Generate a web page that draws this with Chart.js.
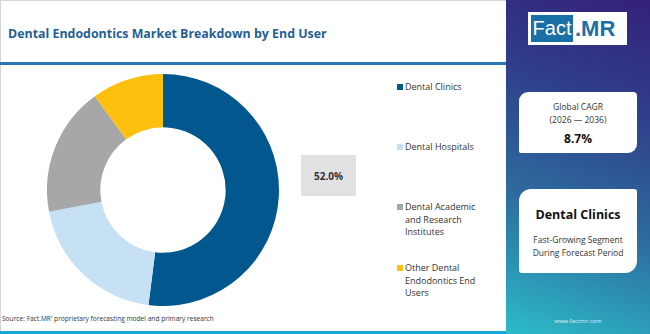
<!DOCTYPE html>
<html>
<head>
<meta charset="utf-8">
<script src="https://cdn.jsdelivr.net/npm/chart.js@4.4.1/dist/chart.umd.min.js"></script>
<style>
  html, body { margin: 0; padding: 0; }
  body { width: 650px; height: 334px; position: relative; overflow: hidden; background: #fff;
         font-family: "Open Sans", "DejaVu Sans", sans-serif; }
  .frame { position: absolute; left: 0; top: 0; width: 506px; height: 334px;
           border-top: 1px solid #d4d4d4; border-left: 1px solid #d4d4d4; box-sizing: border-box; }
  .title { position: absolute; left: 8px; top: 25px; font-size: 12.4px; font-weight: 700; color: #1f5f96;
           white-space: nowrap; }
  .rule { position: absolute; left: 0; top: 62px; width: 506px; height: 3px; background: #2e75b6; }
  .chartBox { position: absolute; left: 47px; top: 74px; width: 232px; height: 232px; }
  .valueBox { position: absolute; left: 301px; top: 155px; width: 55px; height: 41px; background: #e1e1e1;
              font-size: 10px; font-weight: 700; color: #333; display: flex; align-items: center; justify-content: center; }
  .legend { position: absolute; left: 397px; top: 0; width: 110px; }
  .legend .item { position: absolute; left: 0; width: 110px; font-size: 9px; color: #333; line-height: 12.5px; }
  .legend .sw { position: absolute; left: 0; top: 3px; width: 6px; height: 6px; }
  .legend .tx { margin-left: 8px; }
  .source { position: absolute; left: 2px; top: 314px; font-size: 6.6px; color: #333; white-space: nowrap; }
  .bottomBar { position: absolute; left: 0; top: 331px; width: 506px; height: 3px; background: #1aa7d6; }
  .panel { position: absolute; left: 506px; top: 0; width: 144px; height: 334px;
           background: linear-gradient(200deg, #34207a 0%, #2f3f8a 30%, #2d6a9e 62%, #2cbcc8 100%); }
  .logo { position: absolute; left: 22px; top: 12px; width: 99px; height: 33px; background: #fff; }
  .logo .f { position: absolute; left: 3px; top: 3px; width: 42px; height: 27px; background: #1a6fa5; color: #fff;
             font-size: 20px; line-height: 27px; text-align: center; font-family: "Liberation Sans", sans-serif; }
  .logo .m { position: absolute; left: 47px; top: 3px; height: 27px; color: #1a6fa5; font-weight: 700;
             font-size: 22px; line-height: 27px; font-family: "Liberation Sans", sans-serif; }
  .card { position: absolute; left: 13px; width: 118px; background: #fff; text-align: center; color: #333; }
  .card1 { top: 92px; height: 61px; border-radius: 9px 4px 9px 2px; }
  .card2 { top: 189px; height: 84px; border-radius: 12px 3px 12px 3px; }
  .url { position: absolute; left: 0; width: 144px; top: 317px; text-align: center; font-size: 6px; color: #e8eef8; }
</style>
</head>
<body>
<div class="frame"></div>
<div class="title">Dental Endodontics Market Breakdown by End User</div>
<div class="rule"></div>
<div class="chartBox"><canvas id="donut"></canvas></div>
<div class="valueBox" id="valueBox"></div>
<div class="legend" id="legend"></div>
<div class="source">Source: Fact.MR' proprietary forecasting model and primary research</div>
<div class="bottomBar"></div>
<div class="panel">
  <div class="logo"><div class="f">Fact</div><div class="m">.MR</div></div>
  <div class="card card1">
    <div style="font-size:8.5px;margin-top:8px;line-height:13px;">Global CAGR<br>(2026 — 2036)</div>
    <div style="font-size:12px;font-weight:700;margin-top:4px;color:#111;">8.7%</div>
  </div>
  <div class="card card2">
    <div style="font-size:12.5px;font-weight:700;margin-top:17px;color:#111;">Dental Clinics</div>
    <div style="font-size:8.5px;margin-top:11px;line-height:12.5px;">Fast-Growing Segment<br>During Forecast Period</div>
  </div>
  <div class="url">www.factmr.com</div>
</div>
<script>
const categories = ['Dental Clinics', 'Dental Hospitals', 'Dental Academic and Research Institutes', 'Other Dental Endodontics End Users'];
const legendLines = [['Dental Clinics'], ['Dental Hospitals'], ['Dental Academic', 'and Research', 'Institutes'], ['Other Dental', 'Endodontics End', 'Users']];
const shares = [52, 20, 18, 10];
const colors = ['#02588e', '#c6e1f3', '#a7a6a9', '#fec00f'];
const legendTops = [81, 141, 201, 262];

document.getElementById('valueBox').textContent = shares[0].toFixed(1) + '%';

const legend = document.getElementById('legend');
categories.forEach((c, i) => {
  const item = document.createElement('div');
  item.className = 'item';
  item.style.top = legendTops[i] + 'px';
  item.innerHTML = '<span class="sw" style="background:' + colors[i] + '"></span><div class="tx">' + legendLines[i].join('<br>') + '</div>';
  legend.appendChild(item);
});

new Chart(document.getElementById('donut'), {
  type: 'doughnut',
  data: {
    labels: categories,
    datasets: [{
      data: shares,
      backgroundColor: colors,
      borderWidth: 0
    }]
  },
  options: {
    responsive: true,
    maintainAspectRatio: false,
    animation: false,
    cutout: '54%',
    layout: { padding: 0 },
    plugins: {
      legend: { display: false },
      tooltip: { enabled: false }
    }
  }
});
</script>
</body>
</html>
